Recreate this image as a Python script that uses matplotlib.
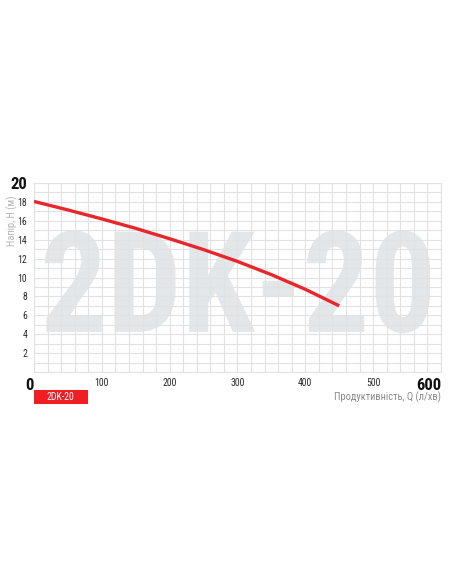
import numpy as np
import matplotlib
matplotlib.use('Agg')
import matplotlib.pyplot as plt
from matplotlib import font_manager
from matplotlib.textpath import TextPath
from matplotlib.patches import PathPatch, Rectangle
from matplotlib.font_manager import FontProperties
import matplotlib.transforms as mtransforms

# data
flow = [0, 50, 100, 150, 200, 250, 300, 350, 400, 450]
head = [18.05, 17.15, 16.2, 15.2, 14.1, 12.95, 11.7, 10.3, 8.75, 7.0]
x_ticks = [0, 100, 200, 300, 400, 500, 600]
y_ticks = [2, 4, 6, 8, 10, 12, 14, 16, 18, 20]
model_name = '2DK-20'
x_label = 'Продуктивність, Q (л/хв)'
y_label = 'Напір, H (м)'

# pick a narrow font if there is one
names = {f.name for f in font_manager.fontManager.ttflist}
family = 'DejaVu Sans'
for cand in ['Roboto Condensed', 'Liberation Sans Narrow', 'Open Sans Condensed', 'Noto Sans Condensed']:
    if cand in names:
        family = cand
        break
plt.rcParams['font.family'] = [family, 'DejaVu Sans']

red = '#e8262c'
grid_col = '#e2e2e2'

fig = plt.figure(figsize=(4.52, 5.84), dpi=100)
ax = fig.add_axes([34 / 452, 212 / 584, 407 / 452, 189 / 584])
ax.set_xlim(0, 600)
ax.set_ylim(0, 20)

# big watermark, stretched into its box
tp = TextPath((0, 0), model_name, size=1, prop=FontProperties(family=family, weight='bold'))
bb = tp.get_extents()
x0, x1, y0, y1 = 16, 584, 4.1, 15.0
tr = mtransforms.Affine2D().translate(-bb.x0, -bb.y0).scale((x1 - x0) / bb.width, (y1 - y0) / bb.height).translate(x0, y0)
ax.add_patch(PathPatch(tr.transform_path(tp), facecolor='#e4e7ea', edgecolor='none', zorder=0))

ax.set_xticks(x_ticks)
ax.set_xticks(np.arange(0, 601, 20), minor=True)
ax.set_yticks(y_ticks)
ax.set_yticks(np.arange(0, 21, 1), minor=True)
ax.grid(True, which='both', color=grid_col, linewidth=0.8, zorder=1)
ax.set_axisbelow(False)
ax.tick_params(which='both', length=0)
ax.tick_params(axis='x', pad=4, labelsize=7, labelcolor='#2a2a2a')
ax.tick_params(axis='y', pad=5, labelsize=7, labelcolor='#2a2a2a')

for s in ax.spines.values():
    s.set_color(grid_col)
    s.set_linewidth(0.8)

ax.plot(flow, head, color=red, linewidth=2.4, solid_capstyle='butt', zorder=3)

# end labels bold and larger
xl = ax.get_xticklabels()
for i in (0, len(xl) - 1):
    xl[i].set_fontsize(12)
    xl[i].set_fontweight('bold')
    xl[i].set_color('#111111')
    xl[i].set_horizontalalignment('right')
yl = ax.get_yticklabels()
yl[-1].set_fontsize(12)
yl[-1].set_fontweight('bold')
yl[-1].set_color('#111111')

ax.set_ylabel(y_label, fontsize=7.5, color='#b5b5b5')
ax.yaxis.set_label_coords(-0.040, 0.80)
ax.text(1.0, -0.105, x_label, transform=ax.transAxes, ha='right', va='top', fontsize=7.5, color='#8a8a8a')

# red model tag under the chart
ax.add_patch(Rectangle((0, -0.169), 0.1327, 0.074, transform=ax.transAxes, facecolor='#f01d25',
                       edgecolor='none', clip_on=False))
ax.text(0.066, -0.132, model_name, transform=ax.transAxes, ha='center', va='center', fontsize=7, color='white')

fig.savefig('out.png', dpi=100)
